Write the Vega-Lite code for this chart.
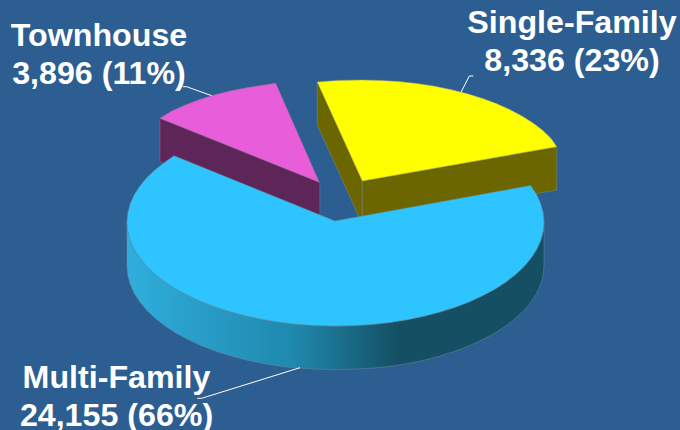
{"$schema":"https://vega.github.io/schema/vega-lite/v6.json","width":680,"height":430,"padding":0,"autosize":{"type":"none"},"background":"#2C5E92","view":{"stroke":null},"config":{"axis":{"grid":false}},
"datasets":{"labels":[
{"segment":"Townhouse","line":"Townhouse","x":99,"y":46},
{"segment":"Townhouse","line":"3,896 (11%)","x":99,"y":83.5},
{"segment":"Single-Family","line":"Single-Family","x":572,"y":32.5},
{"segment":"Single-Family","line":"8,336 (23%)","x":572,"y":70.5},
{"segment":"Multi-Family","line":"Multi-Family","x":116.5,"y":388},
{"segment":"Multi-Family","line":"24,155 (66%)","x":116.5,"y":426}],
"outlines":[
{"part":"yl","i":0,"x":317.3,"y":82},{"part":"yl","i":1,"x":362.3,"y":181},{"part":"yl","i":2,"x":362.3,"y":224},{"part":"yl","i":3,"x":317.3,"y":125},{"part":"yl","i":4,"x":317.3,"y":82},
{"part":"yf","i":0,"x":362.3,"y":181},{"part":"yf","i":1,"x":556.7,"y":146.7},{"part":"yf","i":2,"x":556.7,"y":190},{"part":"yf","i":3,"x":362.3,"y":224},{"part":"yf","i":4,"x":362.3,"y":181},
{"part":"yt","i":0,"x":362.3,"y":181},{"part":"yt","i":1,"x":556.7,"y":146.7},{"part":"yt","i":2,"x":551.3,"y":138.8},{"part":"yt","i":3,"x":542.9,"y":130.5},{"part":"yt","i":4,"x":533.1,"y":123.1},{"part":"yt","i":5,"x":522,"y":116.1},{"part":"yt","i":6,"x":509.7,"y":109.6},{"part":"yt","i":7,"x":496.3,"y":103.6},{"part":"yt","i":8,"x":481.9,"y":98.3},{"part":"yt","i":9,"x":466.5,"y":93.5},{"part":"yt","i":10,"x":450.4,"y":89.5},{"part":"yt","i":11,"x":433.6,"y":86.1},{"part":"yt","i":12,"x":416.3,"y":83.4},{"part":"yt","i":13,"x":398.5,"y":81.5},{"part":"yt","i":14,"x":380.5,"y":80.4},{"part":"yt","i":15,"x":362.3,"y":80},{"part":"yt","i":16,"x":338,"y":80.4},{"part":"yt","i":17,"x":317.3,"y":82},{"part":"yt","i":18,"x":362.3,"y":181},
{"part":"ps","i":0,"x":160,"y":118.3},{"part":"ps","i":1,"x":319.8,"y":182.3},{"part":"ps","i":2,"x":319.8,"y":225},{"part":"ps","i":3,"x":160,"y":161.7},{"part":"ps","i":4,"x":160,"y":118.3},
{"part":"pt","i":0,"x":319.3,"y":182.3},{"part":"pt","i":1,"x":275.7,"y":83.3},{"part":"pt","i":2,"x":248,"y":87.4},{"part":"pt","i":3,"x":231.2,"y":90.8},{"part":"pt","i":4,"x":215,"y":94.8},{"part":"pt","i":5,"x":199.7,"y":99.6},{"part":"pt","i":6,"x":185.3,"y":104.9},{"part":"pt","i":7,"x":171.9,"y":110.9},{"part":"pt","i":8,"x":160,"y":118.3},{"part":"pt","i":9,"x":319.3,"y":182.3},
{"part":"ms","i":0,"x":544,"y":222},{"part":"ms","i":1,"x":543.2,"y":231.1},{"part":"ms","i":2,"x":540.8,"y":240.1},{"part":"ms","i":3,"x":536.9,"y":248.9},{"part":"ms","i":4,"x":531.4,"y":257.6},{"part":"ms","i":5,"x":524.5,"y":266},{"part":"ms","i":6,"x":516.1,"y":274},{"part":"ms","i":7,"x":506.3,"y":281.7},{"part":"ms","i":8,"x":495.2,"y":288.9},{"part":"ms","i":9,"x":482.9,"y":295.5},{"part":"ms","i":10,"x":469.5,"y":301.7},{"part":"ms","i":11,"x":455.1,"y":307.2},{"part":"ms","i":12,"x":439.8,"y":312.1},{"part":"ms","i":13,"x":423.6,"y":316.3},{"part":"ms","i":14,"x":406.8,"y":319.7},{"part":"ms","i":15,"x":389.5,"y":322.5},{"part":"ms","i":16,"x":371.7,"y":324.4},{"part":"ms","i":17,"x":353.7,"y":325.6},{"part":"ms","i":18,"x":335.5,"y":326},{"part":"ms","i":19,"x":317.3,"y":325.6},{"part":"ms","i":20,"x":299.3,"y":324.4},{"part":"ms","i":21,"x":281.5,"y":322.5},{"part":"ms","i":22,"x":264.2,"y":319.7},{"part":"ms","i":23,"x":247.4,"y":316.3},{"part":"ms","i":24,"x":231.3,"y":312.1},{"part":"ms","i":25,"x":215.9,"y":307.2},{"part":"ms","i":26,"x":201.5,"y":301.7},{"part":"ms","i":27,"x":188.1,"y":295.5},{"part":"ms","i":28,"x":175.8,"y":288.9},{"part":"ms","i":29,"x":164.7,"y":281.7},{"part":"ms","i":30,"x":154.9,"y":274},{"part":"ms","i":31,"x":146.5,"y":266},{"part":"ms","i":32,"x":139.6,"y":257.6},{"part":"ms","i":33,"x":134.1,"y":248.9},{"part":"ms","i":34,"x":130.2,"y":240.1},{"part":"ms","i":35,"x":127.8,"y":231.1},{"part":"ms","i":36,"x":127,"y":222},
{"part":"ms","i":37,"x":127,"y":266},{"part":"ms","i":38,"x":127.8,"y":275.1},{"part":"ms","i":39,"x":130.2,"y":284.1},{"part":"ms","i":40,"x":134.1,"y":292.9},{"part":"ms","i":41,"x":139.6,"y":301.6},{"part":"ms","i":42,"x":146.5,"y":310},{"part":"ms","i":43,"x":154.9,"y":318},{"part":"ms","i":44,"x":164.7,"y":325.7},{"part":"ms","i":45,"x":175.8,"y":332.9},{"part":"ms","i":46,"x":188.1,"y":339.5},{"part":"ms","i":47,"x":201.5,"y":345.7},{"part":"ms","i":48,"x":215.9,"y":351.2},{"part":"ms","i":49,"x":231.3,"y":356.1},{"part":"ms","i":50,"x":247.4,"y":360.3},{"part":"ms","i":51,"x":264.2,"y":363.7},{"part":"ms","i":52,"x":281.5,"y":366.5},{"part":"ms","i":53,"x":299.3,"y":368.2},{"part":"ms","i":54,"x":317.3,"y":369.2},{"part":"ms","i":55,"x":335.5,"y":369.5},{"part":"ms","i":56,"x":353.7,"y":369.2},{"part":"ms","i":57,"x":371.7,"y":368.2},{"part":"ms","i":58,"x":389.5,"y":366.5},{"part":"ms","i":59,"x":406.8,"y":363.7},{"part":"ms","i":60,"x":423.6,"y":360.3},{"part":"ms","i":61,"x":439.8,"y":356.1},{"part":"ms","i":62,"x":455.1,"y":351.2},{"part":"ms","i":63,"x":469.5,"y":345.7},{"part":"ms","i":64,"x":482.9,"y":339.5},{"part":"ms","i":65,"x":495.2,"y":332.9},{"part":"ms","i":66,"x":506.3,"y":325.7},{"part":"ms","i":67,"x":516.1,"y":318},{"part":"ms","i":68,"x":524.5,"y":310},{"part":"ms","i":69,"x":531.4,"y":301.6},{"part":"ms","i":70,"x":536.9,"y":292.9},{"part":"ms","i":71,"x":540.8,"y":284.1},{"part":"ms","i":72,"x":543.2,"y":275.1},{"part":"ms","i":73,"x":544,"y":266},{"part":"ms","i":74,"x":544,"y":222},
{"part":"mt","i":0,"x":335,"y":221},{"part":"mt","i":1,"x":530.7,"y":185.5},{"part":"mt","i":2,"x":536.9,"y":195.1},{"part":"mt","i":3,"x":540.8,"y":203.9},{"part":"mt","i":4,"x":543.2,"y":212.9},{"part":"mt","i":5,"x":544,"y":222},{"part":"mt","i":6,"x":543.2,"y":231.1},{"part":"mt","i":7,"x":540.8,"y":240.1},{"part":"mt","i":8,"x":536.9,"y":248.9},{"part":"mt","i":9,"x":531.4,"y":257.6},{"part":"mt","i":10,"x":524.5,"y":266},{"part":"mt","i":11,"x":516.1,"y":274},{"part":"mt","i":12,"x":506.3,"y":281.7},{"part":"mt","i":13,"x":495.2,"y":288.9},{"part":"mt","i":14,"x":482.9,"y":295.5},{"part":"mt","i":15,"x":469.5,"y":301.7},{"part":"mt","i":16,"x":455.1,"y":307.2},{"part":"mt","i":17,"x":439.8,"y":312.1},{"part":"mt","i":18,"x":423.6,"y":316.3},{"part":"mt","i":19,"x":406.8,"y":319.7},{"part":"mt","i":20,"x":389.5,"y":322.5},{"part":"mt","i":21,"x":371.7,"y":324.4},{"part":"mt","i":22,"x":353.7,"y":325.6},{"part":"mt","i":23,"x":335.5,"y":326},{"part":"mt","i":24,"x":317.3,"y":325.6},{"part":"mt","i":25,"x":299.3,"y":324.4},{"part":"mt","i":26,"x":281.5,"y":322.5},{"part":"mt","i":27,"x":264.2,"y":319.7},{"part":"mt","i":28,"x":247.4,"y":316.3},{"part":"mt","i":29,"x":231.3,"y":312.1},{"part":"mt","i":30,"x":215.9,"y":307.2},{"part":"mt","i":31,"x":201.5,"y":301.7},{"part":"mt","i":32,"x":188.1,"y":295.5},{"part":"mt","i":33,"x":175.8,"y":288.9},{"part":"mt","i":34,"x":164.7,"y":281.7},{"part":"mt","i":35,"x":154.9,"y":274},{"part":"mt","i":36,"x":146.5,"y":266},{"part":"mt","i":37,"x":139.6,"y":257.6},{"part":"mt","i":38,"x":134.1,"y":248.9},{"part":"mt","i":39,"x":130.2,"y":240.1},{"part":"mt","i":40,"x":127.8,"y":231.1},{"part":"mt","i":41,"x":127,"y":222},{"part":"mt","i":42,"x":127.8,"y":212.9},{"part":"mt","i":43,"x":130.2,"y":203.9},{"part":"mt","i":44,"x":134.1,"y":195.1},{"part":"mt","i":45,"x":139.6,"y":186.4},{"part":"mt","i":46,"x":146.5,"y":178},{"part":"mt","i":47,"x":154.9,"y":170},{"part":"mt","i":48,"x":164.7,"y":162.3},{"part":"mt","i":49,"x":174,"y":155.7},{"part":"mt","i":50,"x":335,"y":221},
{"part":"l1","i":0,"x":183,"y":86.7},{"part":"l1","i":1,"x":186.7,"y":86.7},{"part":"l1","i":2,"x":211.7,"y":95.7},
{"part":"l2","i":0,"x":473.3,"y":76},{"part":"l2","i":1,"x":469.3,"y":76},{"part":"l2","i":2,"x":461,"y":92.3},
{"part":"l3","i":0,"x":197.3,"y":398.3},{"part":"l3","i":1,"x":201.7,"y":398.3},{"part":"l3","i":2,"x":300,"y":367.7}
]},
"layer":[
{"data":{"name":"outlines"},
"encoding":{"x":{"field":"x","type":"quantitative","axis":null,"scale":{"domain":[0,680],"range":[0,680],"nice":false,"zero":false}},"y":{"field":"y","type":"quantitative","axis":null,"scale":{"domain":[0,430],"range":[0,430],"nice":false,"zero":false}},"order":{"field":"i","type":"quantitative"}},
"layer":[
{"transform":[{"filter":"datum.part==='yl'"}],"mark":{"type":"line","fill":"#6B6600","stroke":"#8C8C6A","strokeWidth":0.5}},
{"transform":[{"filter":"datum.part==='yf'"}],"mark":{"type":"line","fill":"#6B6600","stroke":"#8C8C6A","strokeWidth":0.5}},
{"transform":[{"filter":"datum.part==='yt'"}],"mark":{"type":"line","fill":"#FFFF00","stroke":"#A8A868","strokeWidth":0.5}},
{"transform":[{"filter":"datum.part==='ps'"}],"mark":{"type":"line","fill":"#5E2558","stroke":"#85708A","strokeWidth":0.5}},
{"transform":[{"filter":"datum.part==='pt'"}],"mark":{"type":"line","fill":"#E85DD9","stroke":"#9A7090","strokeWidth":0.5}},
{"transform":[{"filter":"datum.part==='ms'"}],"mark":{"type":"line","stroke":"#6F8A96","strokeWidth":0.5,"fill":{"x1":0,"y1":0,"x2":1,"y2":0,"gradient":"linear","stops":[{"offset":0,"color":"#2FAEDD"},{"offset":0.4,"color":"#1F88AD"},{"offset":0.65,"color":"#154F63"},{"offset":1,"color":"#154F63"}]}}},
{"transform":[{"filter":"datum.part==='mt'"}],"mark":{"type":"line","fill":"#2EC4FF","stroke":"#6F8A96","strokeWidth":0.5}},
{"transform":[{"filter":"datum.part==='l1'"}],"mark":{"type":"line","stroke":"#FFFFFF","strokeWidth":1}},
{"transform":[{"filter":"datum.part==='l2'"}],"mark":{"type":"line","stroke":"#FFFFFF","strokeWidth":1}},
{"transform":[{"filter":"datum.part==='l3'"}],"mark":{"type":"line","stroke":"#FFFFFF","strokeWidth":1}}
]},
{"data":{"name":"labels"},"mark":{"type":"text","font":"Liberation Sans","fontWeight":"bold","fontSize":32.2,"color":"#FFFFFF","align":"center","baseline":"alphabetic"},
"encoding":{"x":{"field":"x","type":"quantitative","axis":null,"scale":{"domain":[0,680],"range":[0,680],"nice":false,"zero":false}},"y":{"field":"y","type":"quantitative","axis":null,"scale":{"domain":[0,430],"range":[0,430],"nice":false,"zero":false}},"text":{"field":"line","type":"nominal"}}}
]}
